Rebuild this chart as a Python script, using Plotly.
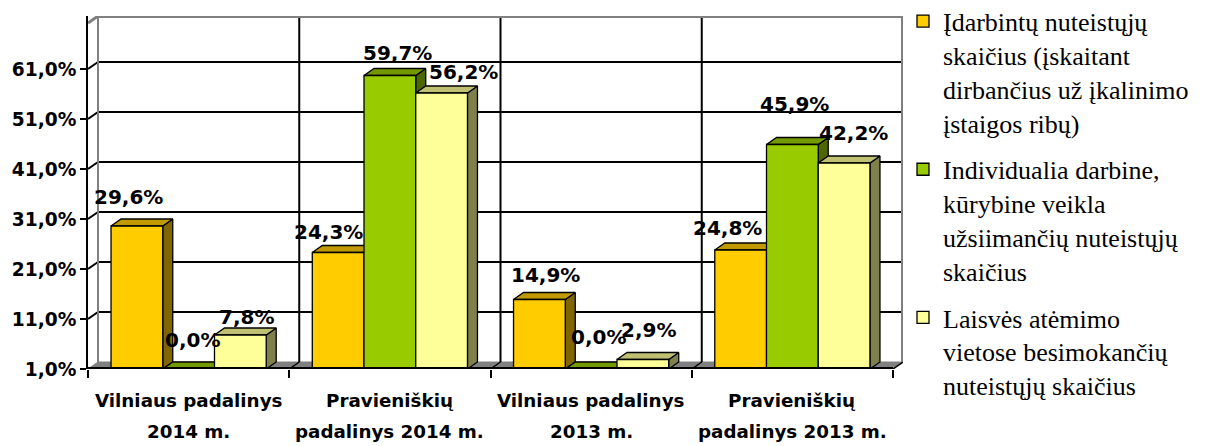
import plotly.graph_objects as go

# ---------------- data ----------------
category_line1 = ["Vilniaus padalinys", "Pravieniškių", "Vilniaus padalinys", "Pravieniškių"]
category_line2 = ["2014 m.", "padalinys 2014 m.", "2013 m.", "padalinys 2013 m."]

series_names = [
    "Įdarbintų nuteistųjų<br>skaičius (įskaitant<br>dirbančius už įkalinimo<br>įstaigos ribų)",
    "Individualia darbine,<br>kūrybine veikla<br>užsiimančių nuteistųjų<br>skaičius",
    "Laisvės atėmimo<br>vietose besimokančių<br>nuteistųjų skaičius",
]
employed = [29.6, 24.3, 14.9, 24.8]
individual = [0.0, 59.7, 0.0, 45.9]
studying = [7.8, 56.2, 2.9, 42.2]
series_values = [employed, individual, studying]

y_tick_values = [1, 11, 21, 31, 41, 51, 61]
y_tick_labels = ["1,0%", "11,0%", "21,0%", "31,0%", "41,0%", "51,0%", "61,0%"]

# ---------------- style ----------------
front_colors = ["#FFCC00", "#99CC00", "#FFFF99"]
top_colors = ["#C09A00", "#739900", "#C0C073"]
side_colors = ["#806600", "#4D6600", "#80804D"]
# pixel nudges of the value labels (per series, per category)
label_xshift = [[-8, -10, 6, -13], [4, 8, 7, 2], [6, 22, 6, 9]]
label_yshift = [[8, 0, 4, 1], [8, 2, 11, 20], [-3, 0, 9, 9]]
LABEL_FONT = dict(family="DejaVu Sans", size=20, color="black", weight="bold")
TICK_FONT = dict(family="DejaVu Sans", size=18.6, color="black", weight="bold")
CAT_FONT = dict(family="DejaVu Sans", size=18.3, color="black", weight="bold")

# the page body adds an 8px offset, so the figure is 8px smaller and margins shifted
W, H = 1206, 438
ML, MR, MT, MB = 80, 311, 8, 77
n_cat = len(category_line1)
PX_PER_CAT = 201.25
DX = 10 / PX_PER_CAT          # depth offset in x units
Y_MIN = 1.0
PX_PER_PCT = 5.0
DY = 7 / PX_PER_PCT           # depth offset in y units
X_MAX = n_cat + DX
Y_MAX = Y_MIN + (H - MT - MB) / PX_PER_PCT
BARGAP = 0.229
BW = (1 - BARGAP) / 3

fig = go.Figure()

# 3D faces (tops and sides), drawn beneath the front faces
for k, vals in enumerate(series_values):
    tx, ty, sx, sy = [], [], [], []
    for i, v in enumerate(vals):
        ve = max(v, Y_MIN)
        xc = i + 0.5 + (k - 1) * BW
        xl, xr = xc - BW / 2, xc + BW / 2
        tx += [xl, xl + DX, xr + DX, xr, xl, None]
        ty += [ve, ve + DY, ve + DY, ve, ve, None]
        if ve > Y_MIN:
            sx += [xr, xr + DX, xr + DX, xr, xr, None]
            sy += [Y_MIN, Y_MIN + DY, ve + DY, ve, Y_MIN, None]
    fig.add_trace(go.Scatter(x=sx, y=sy, mode="lines", fill="toself",
                             fillcolor=side_colors[k], line=dict(color="black", width=1.3),
                             hoverinfo="skip", showlegend=False))
    fig.add_trace(go.Scatter(x=tx, y=ty, mode="lines", fill="toself",
                             fillcolor=top_colors[k], line=dict(color="black", width=1.3),
                             hoverinfo="skip", showlegend=False))

# front faces as real bars on an overlaying axis pair (drawn on top)
x_pos = [i + 0.5 for i in range(n_cat)]
for k, vals in enumerate(series_values):
    fig.add_trace(go.Bar(x=x_pos, y=vals, name=series_names[k],
                         marker=dict(color=front_colors[k], line=dict(color="black", width=1.3)),
                         xaxis="x2", yaxis="y2", legendgroup=str(k)))

# value labels
annotations = []
for k, vals in enumerate(series_values):
    for i, v in enumerate(vals):
        ve = max(v, Y_MIN)
        xc = i + 0.5 + (k - 1) * BW
        annotations.append(dict(x=xc, y=ve + DY, xref="x", yref="y",
                                text=f"{v:.1f}%".replace(".", ","), showarrow=False,
                                yanchor="bottom", xanchor="center",
                                xshift=label_xshift[k][i], yshift=label_yshift[k][i],
                                font=LABEL_FONT))
# category labels (two lines each)
for i in range(n_cat):
    annotations.append(dict(x=i + 0.5, y=Y_MIN, xref="x", yref="y", text=category_line1[i],
                            showarrow=False, yanchor="middle", yshift=-31, font=CAT_FONT))
    annotations.append(dict(x=i + 0.5, y=Y_MIN, xref="x", yref="y", text=category_line2[i],
                            showarrow=False, yanchor="middle", yshift=-62, font=CAT_FONT))

# walls, floor, gridlines
shapes = []
GRAY = "#808080"
shapes.append(dict(type="path", xref="x", yref="y", layer="below",
                   path=f"M0,{Y_MIN} L{n_cat},{Y_MIN} L{n_cat + DX},{Y_MIN + DY} L{DX},{Y_MIN + DY} Z",
                   fillcolor=GRAY, line=dict(color=GRAY, width=1)))
for v in y_tick_values[1:]:
    shapes.append(dict(type="line", xref="x", yref="y", layer="below",
                       x0=DX, x1=X_MAX, y0=v + DY, y1=v + DY, line=dict(color="black", width=2)))
    shapes.append(dict(type="line", xref="x", yref="y", layer="below",
                       x0=0, x1=DX, y0=v, y1=v + DY, line=dict(color="black", width=2)))
for i in range(1, n_cat):
    shapes.append(dict(type="line", xref="x", yref="y", layer="below",
                       x0=i + DX, x1=i + DX, y0=Y_MIN + DY, y1=Y_MAX, line=dict(color="black", width=2)))
for i in range(1, n_cat + 1):
    shapes.append(dict(type="line", xref="x", yref="y", layer="below",
                       x0=i, x1=i + DX, y0=Y_MIN, y1=Y_MIN + DY, line=dict(color="black", width=1.5)))
# wall edges
shapes.append(dict(type="line", xref="x", yref="y", layer="below",
                   x0=DX, x1=DX, y0=Y_MIN + DY, y1=Y_MAX, line=dict(color=GRAY, width=2)))
shapes.append(dict(type="line", xref="x", yref="y", layer="below",
                   x0=DX, x1=X_MAX, y0=Y_MAX, y1=Y_MAX, line=dict(color=GRAY, width=4)))
shapes.append(dict(type="line", xref="x", yref="y", layer="below",
                   x0=X_MAX, x1=X_MAX, y0=Y_MIN + DY, y1=Y_MAX, line=dict(color=GRAY, width=4)))
shapes.append(dict(type="line", xref="x", yref="y", layer="below",
                   x0=0, x1=DX, y0=Y_MAX - DY, y1=Y_MAX, line=dict(color=GRAY, width=3)))
# front floor edge
shapes.append(dict(type="line", xref="x", yref="y", layer="above",
                   x0=0, x1=n_cat, y0=Y_MIN, y1=Y_MIN, line=dict(color="black", width=4)))

fig.update_layout(
    width=W, height=H,
    margin=dict(l=ML, r=MR, t=MT, b=MB, autoexpand=False),
    paper_bgcolor="white", plot_bgcolor="white",
    barmode="group", bargap=BARGAP, bargroupgap=0,
    showlegend=True,
    legend=dict(x=1.0, xanchor="left", y=1.052, yanchor="top", valign="top",
                font=dict(family="Liberation Serif", size=26, color="black"),
                tracegroupgap=10, bgcolor="rgba(0,0,0,0)", maxheight=446),
    xaxis=dict(range=[0, X_MAX], showgrid=False, zeroline=False, showline=False,
               tickvals=[], showticklabels=False,
               minor=dict(tickvals=list(range(n_cat + 1)), ticks="outside", ticklen=8,
                          tickwidth=2, tickcolor="black")),
    yaxis=dict(range=[Y_MIN, Y_MAX], showgrid=False, zeroline=False,
               showline=True, linecolor="black", linewidth=2,
               tickvals=y_tick_values, ticktext=y_tick_labels, ticks="outside",
               ticklen=6, tickwidth=2, tickcolor="black", tickfont=TICK_FONT),
    xaxis2=dict(range=[0, X_MAX], overlaying="x", anchor="y2", visible=False),
    yaxis2=dict(range=[Y_MIN, Y_MAX], overlaying="y", anchor="x2", visible=False),
    annotations=annotations,
    shapes=shapes,
)

fig.write_html("out.html")
